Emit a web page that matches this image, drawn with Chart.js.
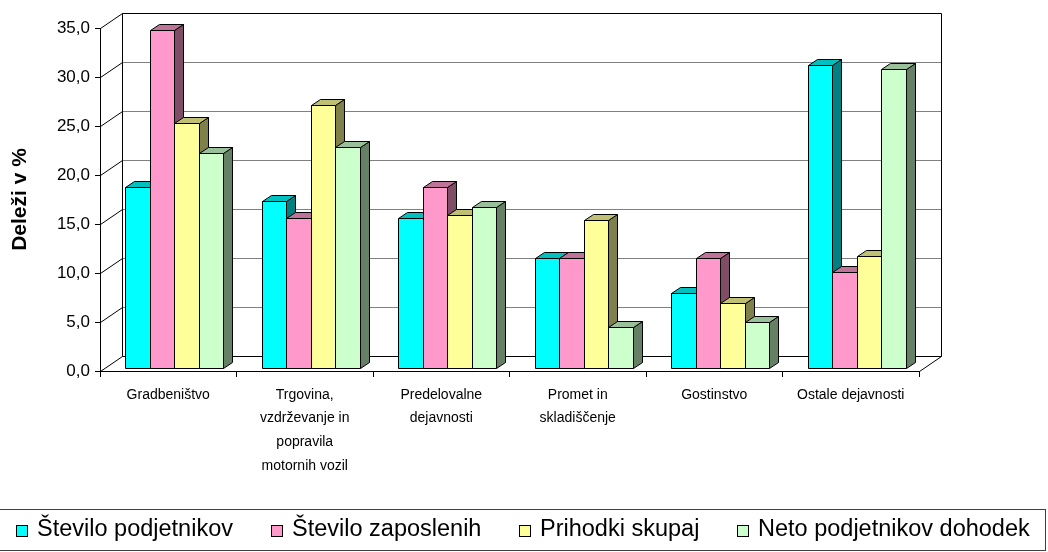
<!DOCTYPE html>
<html>
<head>
<meta charset="utf-8">
<script src="https://cdn.jsdelivr.net/npm/chart.js@4/dist/chart.umd.min.js"></script>
<style>
  html, body { margin: 0; padding: 0; background: #fff; }
  #wrap { width: 1048px; height: 552px; }
</style>
</head>
<body>
<div id="wrap"><canvas id="c" width="1048" height="552"></canvas></div>
<script>
// ---------- DATA ----------
const categories = [
  ['Gradbeništvo'],
  ['Trgovina,', 'vzdrževanje in', 'popravila', 'motornih vozil'],
  ['Predelovalne', 'dejavnosti'],
  ['Promet in', 'skladiščenje'],
  ['Gostinstvo'],
  ['Ostale dejavnosti']
];
const seriesNames = ['Število podjetnikov', 'Število zaposlenih', 'Prihodki skupaj', 'Neto podjetnikov dohodek'];
const steviloPodjetnikov = [18.5, 17.0, 15.3, 11.2, 7.7, 30.9];
const steviloZaposlenih  = [34.5, 15.3, 18.5, 11.2, 11.2, 9.8];
const prihodkiSkupaj     = [25.0, 26.8, 15.6, 15.1, 6.6, 11.4];
const netoDohodek        = [21.9, 22.6, 16.4, 4.2, 4.7, 30.5];
const yTicks = [0, 5, 10, 15, 20, 25, 30, 35];
const yTitle = 'Deleži v %';

// ---------- STYLE ----------
const FONT = '"Liberation Sans", Arial, Helvetica, sans-serif';
const faceColors = [
  { front: '#00FFFF', top: '#00C0C0', side: '#008080' },
  { front: '#FF99CC', top: '#C07399', side: '#804D66' },
  { front: '#FFFF99', top: '#C0C073', side: '#80804D' },
  { front: '#CCFFCC', top: '#99C099', side: '#668066' }
];
const DEPTH = { dx: 22, dy: -15 };     // depth of the 3D box
const BAR_SHIFT = { dx: 6, dy: -3 };   // bars' front plane inside the box
const BAR_DEPTH = { dx: 9, dy: -6 };   // depth of each bar

const seriesData = [steviloPodjetnikov, steviloZaposlenih, prihodkiSkupaj, netoDohodek];

const px = v => Math.round(v) + 0.5;
function seg(ctx, x1, y1, x2, y2) {
  ctx.beginPath(); ctx.moveTo(x1, y1); ctx.lineTo(x2, y2); ctx.stroke();
}

const framePlugin = {
  id: 'frame3d',
  beforeDatasetsDraw(chart) {
    const { ctx, chartArea: ca, scales: { y } } = chart;
    const L = px(ca.left), R = px(ca.right), T = px(ca.top), B = px(ca.bottom);
    ctx.save();
    ctx.lineWidth = 1;
    y.ticks.forEach(t => {
      const py = px(y.getPixelForValue(t.value));
      const by = py + DEPTH.dy;
      ctx.strokeStyle = (t.value === y.min || t.value === y.max) ? '#000' : '#808080';
      seg(ctx, L + DEPTH.dx, by, R + DEPTH.dx, by);
      ctx.strokeStyle = '#000';
      seg(ctx, L, py, L + DEPTH.dx, by);
    });
    ctx.strokeStyle = '#000';
    seg(ctx, L + DEPTH.dx, T + DEPTH.dy, L + DEPTH.dx, B + DEPTH.dy);
    seg(ctx, R + DEPTH.dx, T + DEPTH.dy, R + DEPTH.dx, B + DEPTH.dy);
    seg(ctx, R, B, R + DEPTH.dx, B + DEPTH.dy);
    ctx.restore();
  },
  beforeDatasetDraw() { return false; },
  afterDatasetsDraw(chart) {
    const ctx = chart.ctx;
    const n = chart.data.labels.length;
    ctx.save();
    ctx.lineWidth = 1;
    ctx.strokeStyle = '#000';
    ctx.lineJoin = 'miter';
    for (let i = 0; i < n; i++) {
      chart.data.datasets.forEach((ds, di) => {
        const el = chart.getDatasetMeta(di).data[i];
        if (!el) return;
        const p = el.getProps(['x', 'y', 'base', 'width'], true);
        const c = faceColors[di];
        const x0 = px(p.x - p.width / 2 + BAR_SHIFT.dx);
        const x1 = px(p.x + p.width / 2 + BAR_SHIFT.dx);
        const y0 = px(p.y + BAR_SHIFT.dy);
        const y1 = px(p.base + BAR_SHIFT.dy);
        const dx = BAR_DEPTH.dx, dy = BAR_DEPTH.dy;
        // side face
        ctx.beginPath();
        ctx.moveTo(x1, y0); ctx.lineTo(x1 + dx, y0 + dy); ctx.lineTo(x1 + dx, y1 + dy); ctx.lineTo(x1, y1); ctx.closePath();
        ctx.fillStyle = c.side; ctx.fill(); ctx.stroke();
        // top face
        ctx.beginPath();
        ctx.moveTo(x0, y0); ctx.lineTo(x0 + dx, y0 + dy); ctx.lineTo(x1 + dx, y0 + dy); ctx.lineTo(x1, y0); ctx.closePath();
        ctx.fillStyle = c.top; ctx.fill(); ctx.stroke();
        // front face
        ctx.beginPath();
        ctx.rect(x0, y0, x1 - x0, y1 - y0);
        ctx.fillStyle = c.front; ctx.fill(); ctx.stroke();
      });
    }
    ctx.restore();
  }
};

const legendPlugin = {
  id: 'boxLegend',
  afterDraw(chart) {
    const ctx = chart.ctx;
    ctx.save();
    ctx.lineWidth = 1;
    ctx.strokeStyle = '#404040';
    ctx.strokeRect(-0.5, 509.5, 1046, 41);
    ctx.font = '23.5px ' + FONT;
    ctx.textBaseline = 'alphabetic';
    ctx.textAlign = 'left';
    let x = 16;
    const gap = 38;
    seriesNames.forEach((name, i) => {
      ctx.fillStyle = faceColors[i].front;
      ctx.fillRect(x + 0.5, 525.5, 11, 11);
      ctx.strokeStyle = '#000';
      ctx.strokeRect(x + 0.5, 525.5, 11, 11);
      ctx.fillStyle = '#000';
      ctx.fillText(name, x + 21, 536);
      x = Math.round(x + 21 + ctx.measureText(name).width + gap);
    });
    ctx.restore();
  }
};

new Chart(document.getElementById('c'), {
  type: 'bar',
  data: {
    labels: categories,
    datasets: seriesNames.map((name, i) => ({
      label: name,
      data: seriesData[i],
      backgroundColor: faceColors[i].front,
      borderColor: '#000',
      borderWidth: 1,
      categoryPercentage: 0.72,
      barPercentage: 1.0
    }))
  },
  options: {
    responsive: false,
    animation: false,
    devicePixelRatio: 1,
    layout: { padding: { top: 28, right: 129, left: 0, bottom: 0 } },
    plugins: { legend: { display: false }, tooltip: { enabled: false } },
    scales: {
      x: {
        afterFit: s => { s.height = 181; },
        grid: { display: true, drawOnChartArea: false, drawTicks: true, tickLength: 6, color: '#000', offset: true },
        border: { display: true, color: '#000' },
        ticks: {
          color: '#000', autoSkip: false, maxRotation: 0, minRotation: 0, padding: 6,
          font: { family: FONT, size: 14, lineHeight: 1.69 }
        }
      },
      y: {
        min: yTicks[0], max: yTicks[yTicks.length - 1],
        afterFit: s => { s.width = 100; },
        afterBuildTicks: s => { s.ticks = yTicks.map(v => ({ value: v })); },
        grid: { display: true, drawOnChartArea: false, drawTicks: true, tickLength: 5, color: '#000' },
        border: { display: true, color: '#000' },
        title: { display: true, text: yTitle, color: '#000', font: { family: FONT, size: 21, weight: 'bold' }, padding: { top: 8, bottom: 0 } },
        ticks: {
          color: '#000', padding: 5,
          font: { family: FONT, size: 17 },
          callback: v => Number(v).toFixed(1).replace('.', ',')
        }
      }
    }
  },
  plugins: [framePlugin, legendPlugin]
});
</script>
</body>
</html>
